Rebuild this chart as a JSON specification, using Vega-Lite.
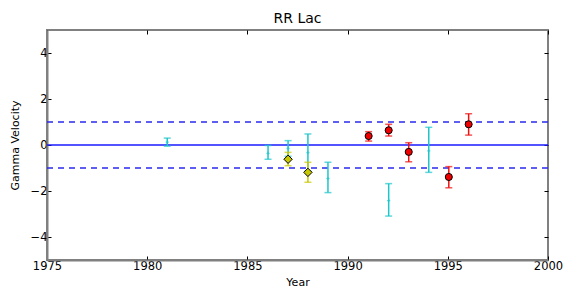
{
  "$schema": "https://vega.github.io/schema/vega-lite/v6.json",
  "width": 501,
  "height": 230,
  "autosize": "none",
  "padding": {"left": 47, "top": 30, "right": 20, "bottom": 33},
  "background": "white",
  "config": {
    "font": "DejaVu Sans",
    "view": {"stroke": "#808080", "strokeWidth": 2},
    "axis": {
      "domainColor": "#808080", "domainWidth": 2,
      "tickColor": "black", "tickSize": -4, "tickWidth": 1,
      "labelFont": "DejaVu Sans", "labelFontSize": 11.5, "labelColor": "black", "labelFlush": false,
      "titleFont": "DejaVu Sans", "titleFontSize": 11, "titleFontWeight": "normal", "titleColor": "black",
      "grid": false, "labelPadding": 4
    }
  },
  "title": {"text": "RR Lac", "font": "DejaVu Sans", "fontSize": 14, "fontWeight": "normal", "offset": 4, "color": "black"},
  "datasets": {
    "pts": [
      {"s": "c", "year": 1981.0, "v": 0.12, "lo": -0.05, "hi": 0.3},
      {"s": "c", "year": 1986.03, "v": -0.36, "lo": -0.62, "hi": -0.02},
      {"s": "c", "year": 1987.03, "v": -0.15, "lo": -0.49, "hi": 0.19},
      {"s": "c", "year": 1988.02, "v": -0.33, "lo": -1.14, "hi": 0.48},
      {"s": "c", "year": 1989.02, "v": -1.46, "lo": -2.07, "hi": -0.75},
      {"s": "c", "year": 1992.05, "v": -2.42, "lo": -3.09, "hi": -1.68},
      {"s": "c", "year": 1994.05, "v": -0.26, "lo": -1.19, "hi": 0.77},
      {"s": "y", "year": 1987.03, "v": -0.62, "lo": -0.9, "hi": -0.32},
      {"s": "y", "year": 1988.02, "v": -1.19, "lo": -1.62, "hi": -0.75},
      {"s": "r", "year": 1991.05, "v": 0.39, "lo": 0.17, "hi": 0.58},
      {"s": "r", "year": 1992.05, "v": 0.64, "lo": 0.39, "hi": 0.9},
      {"s": "r", "year": 1993.05, "v": -0.3, "lo": -0.73, "hi": 0.1},
      {"s": "r", "year": 1995.05, "v": -1.39, "lo": -1.86, "hi": -0.94},
      {"s": "r", "year": 1996.04, "v": 0.9, "lo": 0.43, "hi": 1.36}
    ],
    "refs": [
      {"y": 0, "kind": "solid"},
      {"y": 1, "kind": "dash"},
      {"y": -1, "kind": "dash"}
    ]
  },
  "resolve": {"axis": {"x": "independent", "y": "independent"}},
  "encoding": {
    "x": {"field": "year", "type": "quantitative", "scale": {"domain": [1975, 2000], "nice": false, "zero": false}, "axis": null},
    "y": {"field": "v", "type": "quantitative", "scale": {"domain": [-5, 5], "nice": false}, "axis": null}
  },
  "layer": [
    {
      "data": {"name": "pts"},
      "mark": {"type": "point", "opacity": 0},
      "encoding": {
        "x": {"field": "year", "type": "quantitative", "axis": {"orient": "bottom", "title": "Year", "values": [1975, 1980, 1985, 1990, 1995, 2000], "format": "d", "titlePadding": 5}},
        "y": {"field": "v", "type": "quantitative", "axis": {"orient": "left", "title": "Gamma Velocity", "values": [-4, -2, 0, 2, 4], "titlePadding": 10}}
      }
    },
    {
      "data": {"name": "pts"},
      "mark": {"type": "point", "opacity": 0},
      "encoding": {
        "x": {"field": "year", "type": "quantitative", "axis": {"orient": "top", "title": null, "labels": false, "domain": false, "values": [1975, 1980, 1985, 1990, 1995, 2000]}},
        "y": {"field": "v", "type": "quantitative", "axis": {"orient": "right", "title": null, "labels": false, "domain": false, "values": [-4, -2, 0, 2, 4]}}
      }
    },
    {
      "data": {"name": "refs"},
      "transform": [{"filter": "datum.kind == 'solid'"}],
      "mark": {"type": "rule", "color": "#1a1aff", "strokeWidth": 1.4},
      "encoding": {"x": null, "y": {"field": "y", "type": "quantitative", "axis": null}}
    },
    {
      "data": {"name": "refs"},
      "transform": [{"filter": "datum.kind == 'dash'"}],
      "mark": {"type": "rule", "color": "#2a2aee", "strokeWidth": 1.4, "strokeDash": [6, 5]},
      "encoding": {"x": null, "y": {"field": "y", "type": "quantitative", "axis": null}}
    },
    {
      "data": {"name": "pts"},
      "mark": {"type": "rule", "strokeWidth": 1.5},
      "encoding": {
        "y": {"field": "lo", "type": "quantitative", "axis": null},
        "y2": {"field": "hi"},
        "color": {"field": "s", "type": "nominal", "scale": {"domain": ["c", "y", "r"], "range": ["#1cc6cc", "#c8c800", "#f01010"]}, "legend": null}
      }
    },
    {
      "data": {"name": "pts"},
      "mark": {"type": "tick", "orient": "horizontal", "size": 7, "thickness": 1.5},
      "encoding": {
        "y": {"field": "lo", "type": "quantitative", "axis": null},
        "color": {"field": "s", "type": "nominal", "scale": {"domain": ["c", "y", "r"], "range": ["#1cc6cc", "#c8c800", "#f01010"]}, "legend": null}
      }
    },
    {
      "data": {"name": "pts"},
      "mark": {"type": "tick", "orient": "horizontal", "size": 7, "thickness": 1.5},
      "encoding": {
        "y": {"field": "hi", "type": "quantitative", "axis": null},
        "color": {"field": "s", "type": "nominal", "scale": {"domain": ["c", "y", "r"], "range": ["#1cc6cc", "#c8c800", "#f01010"]}, "legend": null}
      }
    },
    {
      "data": {"name": "pts"},
      "transform": [{"filter": "datum.s == 'c'"}],
      "mark": {"type": "point", "shape": "cross", "filled": true, "size": 10, "color": "#1cc6cc"}
    },
    {
      "data": {"name": "pts"},
      "transform": [{"filter": "datum.s == 'y'"}],
      "mark": {"type": "point", "shape": "diamond", "filled": true, "size": 70, "fill": "#c8c800", "stroke": "black", "strokeWidth": 1, "opacity": 1}
    },
    {
      "data": {"name": "pts"},
      "transform": [{"filter": "datum.s == 'r'"}],
      "mark": {"type": "point", "shape": "circle", "filled": true, "size": 50, "fill": "#ee0000", "stroke": "black", "strokeWidth": 1, "opacity": 1}
    }
  ]
}
